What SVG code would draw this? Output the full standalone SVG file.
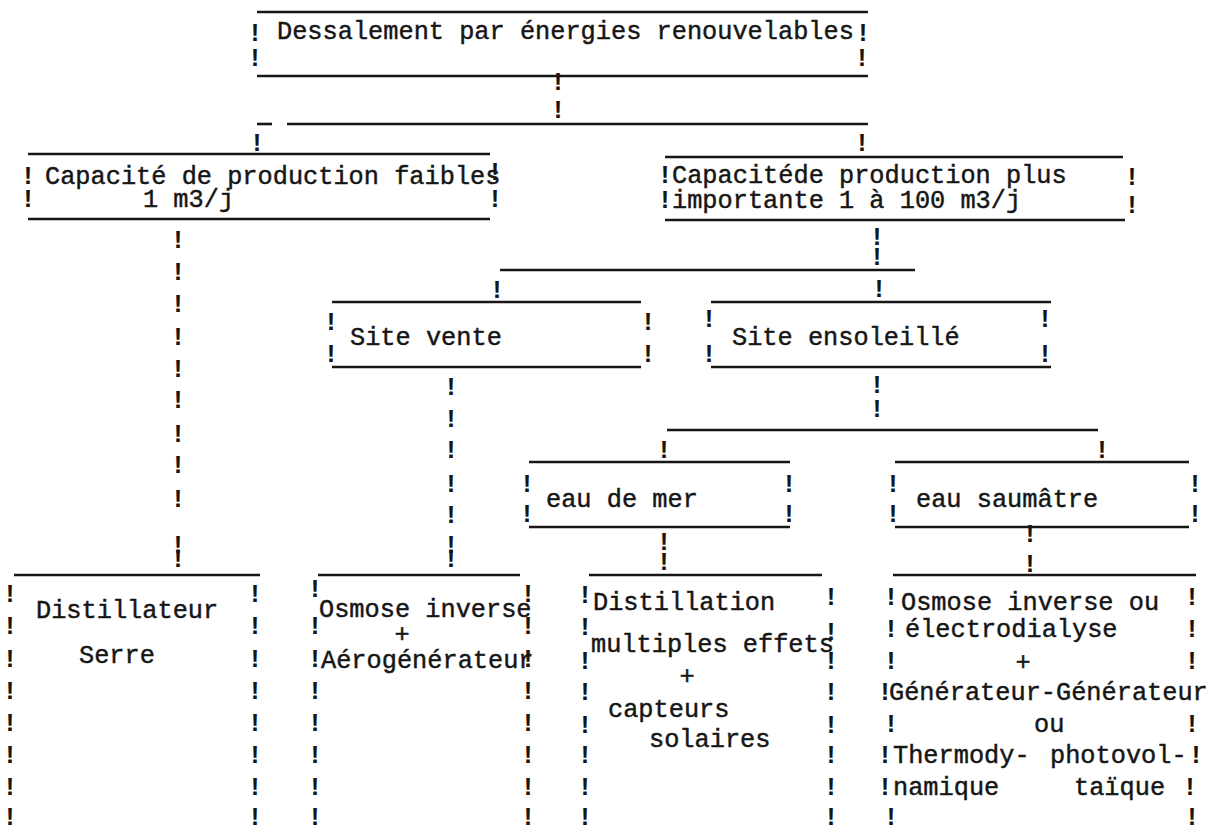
<svg xmlns="http://www.w3.org/2000/svg" width="1207" height="830" viewBox="0 0 1207 830">
<style>
.t{font-family:"Liberation Mono","DejaVu Sans Mono",monospace;font-size:25.3px;fill:#161616;stroke:#161616;stroke-width:0.45}
.c{font-family:"Liberation Mono","DejaVu Sans Mono",monospace;font-size:25.3px;fill:#161616;stroke:#161616;stroke-width:0.45;text-anchor:middle}
.x{font-family:"Liberation Mono","DejaVu Sans Mono",monospace;font-size:25px;font-weight:bold;fill:#161616;text-anchor:middle}
.ln{stroke:#161616;stroke-width:2.6;fill:none}
</style>
<rect width="1207" height="830" fill="#ffffff"/>
<g id="connectors">
<line class="ln" x1="257" y1="124" x2="272" y2="124"/>
<line class="ln" x1="287" y1="124" x2="868" y2="124"/>
<line class="ln" x1="500" y1="270" x2="915" y2="270"/>
<line class="ln" x1="667" y1="430" x2="1098" y2="430"/>
<text class="x" x="558" y="90">!</text><text class="x" x="558" y="118">!</text>
<text class="x" x="257" y="151">!</text><text class="x" x="862" y="151">!</text>
<text class="x" x="178" y="248">!</text><text class="x" x="178" y="280">!</text><text class="x" x="178" y="312">!</text><text class="x" x="178" y="345">!</text><text class="x" x="178" y="377">!</text><text class="x" x="178" y="408">!</text><text class="x" x="178" y="442">!</text><text class="x" x="178" y="473">!</text><text class="x" x="178" y="507">!</text><text class="x" x="178" y="553">!</text><text class="x" x="178" y="567">!</text>
<text class="x" x="877" y="245">!</text><text class="x" x="877" y="265">!</text>
<text class="x" x="497" y="298">!</text><text class="x" x="879" y="297">!</text>
<text class="x" x="451" y="395">!</text><text class="x" x="451" y="427">!</text><text class="x" x="451" y="458">!</text><text class="x" x="451" y="492">!</text><text class="x" x="451" y="523">!</text><text class="x" x="451" y="553">!</text><text class="x" x="451" y="567">!</text>
<text class="x" x="877" y="393">!</text><text class="x" x="877" y="417">!</text>
<text class="x" x="664" y="458">!</text><text class="x" x="1102" y="458">!</text>
<text class="x" x="664" y="550">!</text><text class="x" x="664" y="570">!</text>
<text class="x" x="1030" y="542">!</text><text class="x" x="1030" y="572">!</text>
</g>
<g id="root">
<line class="ln" x1="257" y1="12" x2="868" y2="12"/>
<line class="ln" x1="257" y1="76" x2="868" y2="76"/>
<text class="x" x="255" y="41">!</text><text class="x" x="255" y="66">!</text>
<text class="x" x="863" y="41">!</text><text class="x" x="862" y="66">!</text>
<text class="t" x="277" y="39">Dessalement par énergies renouvelables</text>
</g>
<g id="faible">
<line class="ln" x1="28" y1="154" x2="490" y2="154"/>
<line class="ln" x1="28" y1="219" x2="490" y2="219"/>
<text class="x" x="28" y="184">!</text><text class="x" x="28" y="207">!</text>
<text class="x" x="495" y="180">!</text><text class="x" x="495" y="207">!</text>
<text class="t" x="45" y="184">Capacité de production faibles</text>
<text class="t" x="143" y="207">1 m3/j</text>
</g>
<g id="importante">
<line class="ln" x1="665" y1="157" x2="1123" y2="157"/>
<line class="ln" x1="665" y1="220" x2="1125" y2="220"/>
<text class="x" x="665" y="183">!</text><text class="x" x="665" y="208">!</text>
<text class="x" x="1132" y="185">!</text><text class="x" x="1132" y="213">!</text>
<text class="t" x="672" y="183">Capacitéde production plus</text>
<text class="t" x="672" y="208">importante 1 à 100 m3/j</text>
</g>
<g id="site-vente">
<line class="ln" x1="332" y1="302" x2="641" y2="302"/>
<line class="ln" x1="332" y1="367" x2="641" y2="367"/>
<text class="x" x="331" y="330">!</text><text class="x" x="331" y="362">!</text>
<text class="x" x="648" y="330">!</text><text class="x" x="648" y="362">!</text>
<text class="t" x="350" y="345">Site vente</text>
</g>
<g id="site-ensoleille">
<line class="ln" x1="711" y1="302" x2="1051" y2="302"/>
<line class="ln" x1="711" y1="367" x2="1051" y2="367"/>
<text class="x" x="709" y="327">!</text><text class="x" x="709" y="362">!</text>
<text class="x" x="1045" y="327">!</text><text class="x" x="1045" y="362">!</text>
<text class="t" x="732" y="345">Site ensoleillé</text>
</g>
<g id="eau-de-mer">
<line class="ln" x1="529" y1="462" x2="790" y2="462"/>
<line class="ln" x1="529" y1="527" x2="790" y2="527"/>
<text class="x" x="527" y="492">!</text><text class="x" x="527" y="522">!</text>
<text class="x" x="789" y="492">!</text><text class="x" x="789" y="522">!</text>
<text class="t" x="546" y="507">eau de mer</text>
</g>
<g id="eau-saumatre">
<line class="ln" x1="895" y1="462" x2="1189" y2="462"/>
<line class="ln" x1="895" y1="527" x2="1189" y2="527"/>
<text class="x" x="893" y="492">!</text><text class="x" x="893" y="522">!</text>
<text class="x" x="1195" y="492">!</text><text class="x" x="1195" y="522">!</text>
<text class="t" x="916" y="507">eau saumâtre</text>
</g>
<g id="distillateur">
<line class="ln" x1="14" y1="575" x2="260" y2="575"/>
<text class="x" x="10" y="602">!</text><text class="x" x="10" y="634">!</text><text class="x" x="10" y="667">!</text><text class="x" x="10" y="699">!</text><text class="x" x="10" y="731">!</text><text class="x" x="10" y="763">!</text><text class="x" x="10" y="795">!</text><text class="x" x="10" y="825">!</text>
<text class="x" x="255" y="602">!</text><text class="x" x="255" y="634">!</text><text class="x" x="255" y="667">!</text><text class="x" x="255" y="699">!</text><text class="x" x="255" y="731">!</text><text class="x" x="255" y="763">!</text><text class="x" x="255" y="795">!</text><text class="x" x="255" y="825">!</text>
<text class="t" x="36" y="618">Distillateur</text>
<text class="t" x="79" y="663">Serre</text>
</g>
<g id="osmose-aero">
<line class="ln" x1="318" y1="575" x2="520" y2="575"/>
<text class="x" x="315" y="597">!</text><text class="x" x="315" y="634">!</text><text class="x" x="315" y="667">!</text><text class="x" x="315" y="699">!</text><text class="x" x="315" y="731">!</text><text class="x" x="315" y="763">!</text><text class="x" x="315" y="795">!</text><text class="x" x="315" y="825">!</text>
<text class="x" x="528" y="602">!</text><text class="x" x="528" y="634">!</text><text class="x" x="528" y="667">!</text><text class="x" x="528" y="699">!</text><text class="x" x="528" y="731">!</text><text class="x" x="528" y="763">!</text><text class="x" x="528" y="795">!</text><text class="x" x="528" y="825">!</text>
<text class="t" x="319" y="617">Osmose inverse</text>
<text class="c" x="402" y="642">+</text>
<text class="t" x="321" y="668">Aérogénérateur</text>
</g>
<g id="distillation">
<line class="ln" x1="589" y1="575" x2="822" y2="575"/>
<text class="x" x="585" y="603">!</text><text class="x" x="585" y="635">!</text><text class="x" x="585" y="669">!</text><text class="x" x="585" y="700">!</text><text class="x" x="585" y="733">!</text><text class="x" x="585" y="763">!</text><text class="x" x="585" y="795">!</text><text class="x" x="585" y="825">!</text>
<text class="x" x="831" y="605">!</text><text class="x" x="831" y="640">!</text><text class="x" x="831" y="669">!</text><text class="x" x="831" y="700">!</text><text class="x" x="831" y="733">!</text><text class="x" x="831" y="763">!</text><text class="x" x="831" y="795">!</text><text class="x" x="831" y="825">!</text>
<text class="t" x="593" y="610">Distillation</text>
<text class="t" x="591" y="652">multiples effets</text>
<text class="c" x="687" y="684">+</text>
<text class="t" x="608" y="717">capteurs</text>
<text class="t" x="649" y="747">solaires</text>
</g>
<g id="osmose-electro">
<line class="ln" x1="893" y1="575" x2="1196" y2="575"/>
<text class="x" x="891" y="605">!</text><text class="x" x="891" y="637">!</text><text class="x" x="891" y="669">!</text><text class="x" x="885" y="700">!</text><text class="x" x="891" y="732">!</text><text class="x" x="885" y="763">!</text><text class="x" x="885" y="795">!</text><text class="x" x="891" y="825">!</text>
<text class="x" x="1192" y="605">!</text><text class="x" x="1192" y="637">!</text><text class="x" x="1192" y="669">!</text><text class="x" x="1192" y="732">!</text><text class="x" x="1196" y="763">!</text><text class="x" x="1190" y="795">!</text><text class="x" x="1192" y="825">!</text>
<text class="t" x="901" y="610">Osmose inverse ou</text>
<text class="t" x="905" y="637">électrodialyse</text>
<text class="c" x="1023" y="670">+</text>
<text class="t" x="889" y="700">Générateur-Générateur</text>
<text class="t" x="1034" y="732">ou</text>
<text class="t" x="893" y="763">Thermody-</text>
<text class="t" x="1050" y="763">photovol-</text>
<text class="t" x="893" y="795">namique</text>
<text class="t" x="1074" y="795">taïque</text>
</g>
</svg>
